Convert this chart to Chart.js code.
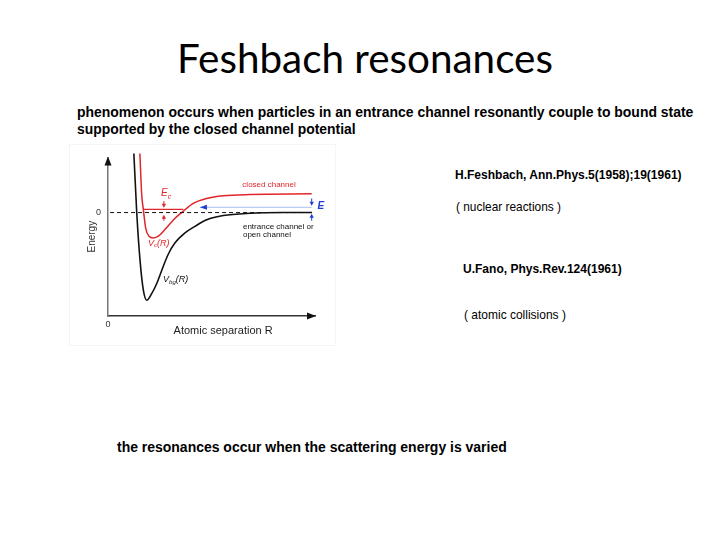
<!DOCTYPE html>
<html lang="en">
  <head>
    <meta charset="UTF-8" />
    <title>Feshbach resonances</title>
    <script src="https://cdn.jsdelivr.net/npm/chart.js"></script>
    <style>
      * {
        margin: 0;
        padding: 0;
        box-sizing: border-box;
      }
      body {
        width: 720px;
        height: 540px;
        background: #fff;
        position: relative;
        overflow: hidden;
        font-family: "Liberation Sans", Arial, sans-serif;
        color: #000;
      }
      .t {
        position: absolute;
        white-space: nowrap;
        line-height: 1;
      }
      .title {
        font-family: Lato, "Open Sans", sans-serif;
        font-size: 40px;
        left: 177px;
        top: 38px;
      }
      .b {
        font-weight: bold;
      }
      .fig {
        position: absolute;
        left: 69px;
        top: 144px;
        width: 267px;
        height: 202px;
        border: 1px solid #f5f5f5;
      }
    </style>
  </head>
  <body>
    <div class="t title" data-w="376">Feshbach resonances</div>

    <div class="t b" style="left: 77px; top: 106px; font-size: 13px" data-w="617">
      phenomenon occurs when particles in an entrance channel resonantly couple to bound state
    </div>
    <div class="t b" style="left: 77px; top: 123px; font-size: 13px" data-w="279">
      supported by the closed channel potential
    </div>

    <div class="fig"><canvas id="feshbach"></canvas></div>

    <div class="t b" style="left: 455px; top: 169px; font-size: 12px" data-w="227">
      H.Feshbach, Ann.Phys.5(1958);19(1961)
    </div>
    <div class="t" style="left: 456px; top: 202px; font-size: 12px" data-w="105">
      ( nuclear reactions )
    </div>
    <div class="t b" style="left: 463px; top: 263px; font-size: 12px" data-w="159">
      U.Fano, Phys.Rev.124(1961)
    </div>
    <div class="t" style="left: 464px; top: 309px; font-size: 12px" data-w="102">
      ( atomic collisions )
    </div>

    <div class="t b" style="left: 117px; top: 440px; font-size: 13px" data-w="390">
      the resonances occur when the scattering energy is varied
    </div>

    <script>
      // potential curves (R arbitrary units, energy arbitrary units)
      const openR = [12.5, 13.9, 15.5, 17.1, 18.7, 21.1, 23.5, 25.9, 29.1, 32.4, 37.2, 42, 47.7, 55.7, 68.6, 84.5, 98.6];
      const openV = [60, -0.7, -49, -79, -89, -82.3, -72.3, -59, -42.3, -30.7, -20.7, -14, -7.3, -3, -0.7, 0, 0];
      const closedR = [15.4, 16.3, 17.1, 18.2, 19.8, 21.9, 24.3, 27.5, 32.4, 35.6, 41.2, 47.7, 55.7, 68.6, 98.4];
      const closedV = [60, 17.7, 2.7, -15.7, -24, -25.7, -24, -17.3, -5.7, 0, 9.3, 14.3, 17, 18.3, 19];

      // zero threshold, bound state, incoming energy
      const zeroR = [1, 98.6];
      const boundR = [17.1, 36.4];
      const boundE = 3.3;
      const entranceR = [44.4, 98.4];
      const entranceE = 5.3;

      // double arrows [R, from, to]
      const ecArrows = [[27, 11.7, 5], [27, -8.3, -2.3]];
      const eArrows = [[98.4, 14.3, 7], [98.4, -8.3, -1.3]];

      const xTicks = [0];
      const yTicks = [0];

      // fit the slide text to the widths measured on the picture
      document.querySelectorAll(".t").forEach((el) => {
        const s = parseFloat(getComputedStyle(el).fontSize);
        const w = el.getBoundingClientRect().width;
        el.style.fontSize = (s * el.dataset.w) / w + "px";
      });

      const RED = "#e0262b";
      const BLUE = "#1f3fd0";

      const pts = (xs, ys) => xs.map((x, i) => ({ x: x, y: ys[i] }));
      const flat = (xs, y) => xs.map((x) => ({ x: x, y: y }));

      function arrowHead(ctx, x, y, dx, dy, len, half) {
        ctx.beginPath();
        ctx.moveTo(x, y);
        ctx.lineTo(x - dx * len - dy * half, y - dy * len + dx * half);
        ctx.lineTo(x - dx * len + dy * half, y - dy * len - dx * half);
        ctx.closePath();
        ctx.fill();
      }

      // label with optional subscript
      function label(ctx, x, y, main, sub, rest, size, color, style) {
        ctx.fillStyle = color;
        ctx.textBaseline = "middle";
        ctx.textAlign = "left";
        ctx.font = style + " " + size + "px 'Liberation Sans', Arial, sans-serif";
        ctx.fillText(main, x, y);
        x += ctx.measureText(main).width;
        if (sub) {
          ctx.font = style + " " + Math.round(size * 0.7) + "px 'Liberation Sans', Arial, sans-serif";
          ctx.fillText(sub, x, y + size * 0.3);
          x += ctx.measureText(sub).width;
        }
        if (rest) {
          ctx.font = style + " " + size + "px 'Liberation Sans', Arial, sans-serif";
          ctx.fillText(rest, x, y);
        }
      }

      const decorations = {
        id: "decorations",
        afterDatasetsDraw(chart) {
          const { ctx, chartArea: a, scales } = chart;
          const px = (v) => scales.x.getPixelForValue(v);
          const py = (v) => scales.y.getPixelForValue(v);
          ctx.save();

          // axis arrow heads
          ctx.fillStyle = "#111";
          arrowHead(ctx, a.left, a.top - 1, 0, -1, 9, 3.5);
          arrowHead(ctx, a.right + 1, a.bottom, 1, 0, 9, 3.5);

          // E_c and E arrows
          const drawArrows = (list, color) => {
            ctx.strokeStyle = color;
            ctx.fillStyle = color;
            ctx.lineWidth = 1;
            list.forEach(([r, from, to]) => {
              const x = px(r);
              const y0 = py(from);
              const y1 = py(to);
              const d = y1 > y0 ? 1 : -1;
              ctx.beginPath();
              ctx.moveTo(x, y0);
              ctx.lineTo(x, y1 - d * 3);
              ctx.stroke();
              arrowHead(ctx, x, y1, 0, d, 4, 2.2);
            });
          };
          drawArrows(ecArrows, RED);
          drawArrows(eArrows, BLUE);

          // head of the incoming-energy line
          ctx.fillStyle = BLUE;
          arrowHead(ctx, px(entranceR[0]), py(entranceE), -1, 0, 7, 2.5);

          // texts
          ctx.textAlign = "center";
          ctx.textBaseline = "middle";
          ctx.fillStyle = RED;
          ctx.font = "8px 'Liberation Sans', Arial, sans-serif";
          ctx.fillText("closed channel", px(77.8), py(28));

          label(ctx, px(65.2), py(-14), "entrance channel or", "", "", 8, "#111", "normal");
          label(ctx, px(65.2), py(-23), "open channel", "", "", 8, "#111", "normal");
          label(ctx, px(25.6), py(19.3), "E", "c", "", 10, RED, "italic");
          label(ctx, px(19.3), py(-31), "V", "c", "(R)", 9, RED, "italic");
          label(ctx, px(26.6), py(-68), "V", "bg", "(R)", 9, "#111", "italic");
          label(ctx, px(101.2), py(6), "E", "", "", 10, BLUE, "italic bold");

          ctx.textAlign = "center";
          ctx.fillStyle = "#222";
          ctx.font = "11px 'Liberation Sans', Arial, sans-serif";
          ctx.fillText("Atomic separation R", px(55.6), a.bottom + 15);
          ctx.restore();
        },
      };

      Chart.defaults.font.family = "'Liberation Sans', Arial, sans-serif";

      new Chart(document.getElementById("feshbach"), {
        type: "line",
        data: {
          datasets: [
            {
              data: flat(zeroR, 0),
              borderColor: "#111",
              borderWidth: 1,
              borderDash: [4, 3],
            },
            {
              data: pts(openR, openV),
              borderColor: "#111",
              borderWidth: 1.6,
              cubicInterpolationMode: "monotone",
              clip: { left: 5, top: 8, right: 5, bottom: 5 },
            },
            {
              data: pts(closedR, closedV),
              borderColor: RED,
              borderWidth: 1.5,
              cubicInterpolationMode: "monotone",
              clip: { left: 5, top: 8, right: 5, bottom: 5 },
            },
            {
              data: flat(boundR, boundE),
              borderColor: RED,
              borderWidth: 1.3,
            },
            {
              data: flat(entranceR, entranceE),
              borderColor: "#b9ccf2",
              borderWidth: 1.2,
            },
          ],
        },
        options: {
          responsive: true,
          maintainAspectRatio: false,
          animation: false,
          layout: { padding: { top: 10, right: 20, left: 0, bottom: 0 } },
          elements: { point: { radius: 0 } },
          plugins: { legend: { display: false }, tooltip: { enabled: false } },
          scales: {
            x: {
              type: "linear",
              min: 0,
              max: 100,
              grid: { display: false, drawTicks: false },
              border: { color: "#333", width: 1.5 },
              ticks: { font: { size: 9 }, color: "#333", padding: 3, maxRotation: 0 },
              afterBuildTicks: (s) => {
                s.ticks = xTicks.map((v) => ({ value: v }));
              },
              afterFit: (s) => {
                s.height = 29;
              },
            },
            y: {
              type: "linear",
              min: -105,
              max: 56,
              grid: { display: false, drawTicks: false },
              border: { color: "#777", width: 1.5 },
              ticks: { font: { size: 9 }, color: "#333", padding: 7 },
              afterBuildTicks: (s) => {
                s.ticks = yTicks.map((v) => ({ value: v }));
              },
              afterFit: (s) => {
                s.width = 38;
              },
              title: {
                display: true,
                text: "Energy",
                color: "#333",
                font: { size: 10 },
                padding: { top: 16 },
              },
            },
          },
        },
        plugins: [decorations],
      });
    </script>
  </body>
</html>
